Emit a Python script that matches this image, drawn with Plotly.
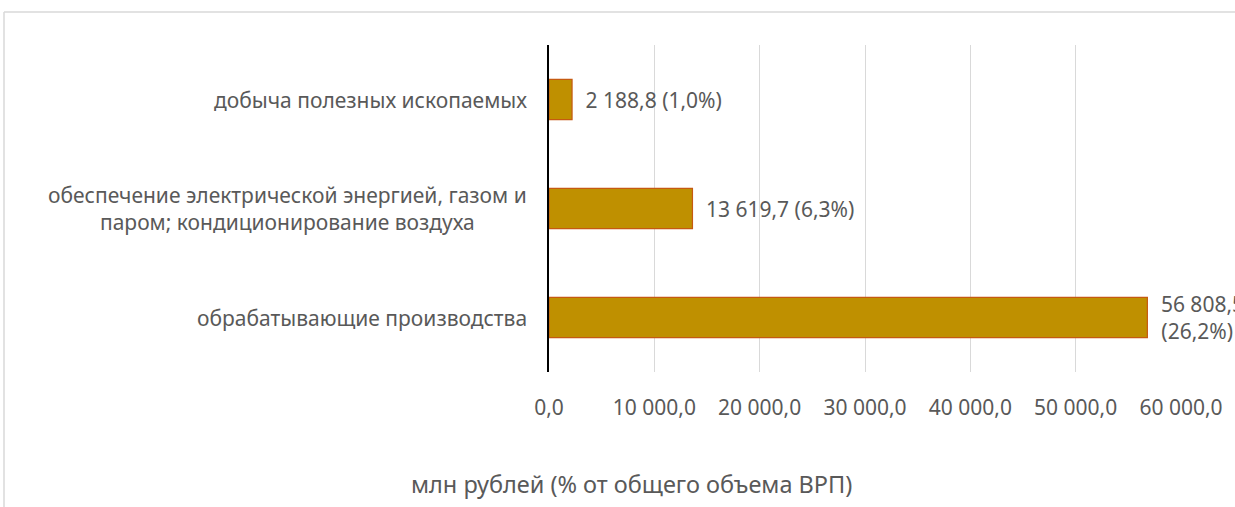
import plotly.graph_objects as go

categories = [
    "обрабатывающие производства",
    "обеспечение электрической энергией, газом и<br>паром; кондиционирование воздуха",
    "добыча полезных ископаемых",
]
values = [56808.5, 13619.7, 2188.8]
shares = ["26,2%", "6,3%", "1,0%"]
bar_labels = ["56 808,5<br>(26,2%)", "13 619,7 (6,3%)", "2 188,8 (1,0%)"]
tick_vals = [0, 10000, 20000, 30000, 40000, 50000, 60000]
tick_text = ["0,0", "10 000,0", "20 000,0", "30 000,0", "40 000,0", "50 000,0", "60 000,0"]
axis_title = "млн рублей (% от общего объема ВРП)"

FONT = "Noto Sans"
GREY = "#595959"
FS = 21
W, H = 1235, 507
L, R, T, B = 549, 54, 45, 135
pw, ph = W - L - R, H - T - B

fig = go.Figure(go.Bar(
    y=list(range(len(categories))), x=values, orientation="h",
    marker=dict(color="#BF9000", line=dict(color="#C55A11", width=1.2)),
    text=bar_labels, texttemplate="\u2002%{text}", textposition="outside",
    cliponaxis=False, constraintext="none",
    textfont=dict(family=FONT, size=FS, color=GREY),
    width=0.37,
))

def px_x(p):
    return (p - L) / pw

def px_y(p):
    return (H - B - p) / ph

annotations = []
for i, c in enumerate(categories):
    annotations.append(dict(
        x=px_x(529), y=i, xref="paper", yref="y", text=c, showarrow=False,
        xanchor="right", yanchor="middle", align="center",
        font=dict(family=FONT, size=FS, color=GREY),
    ))
annotations.append(dict(
    x=px_x(631), y=px_y(484), xref="paper", yref="paper", text=axis_title,
    showarrow=False, xanchor="center", yanchor="middle",
    font=dict(family=FONT, size=23.5, color=GREY),
))

shapes = [
    dict(type="line", xref="paper", yref="paper", x0=px_x(4), x1=px_x(1300),
         y0=px_y(12), y1=px_y(12), line=dict(color="#D9D9D9", width=1.5)),
    dict(type="line", xref="paper", yref="paper", x0=px_x(4), x1=px_x(4),
         y0=px_y(12), y1=px_y(560), line=dict(color="#D9D9D9", width=1.5)),
]

fig.update_layout(
    width=W, height=H, margin=dict(l=L, r=R, t=T, b=B, pad=0),
    paper_bgcolor="white", plot_bgcolor="white", showlegend=False,
    font=dict(family=FONT, size=FS, color=GREY),
    xaxis=dict(range=[0, 60000], tickvals=tick_vals, ticktext=tick_text,
               showgrid=True, gridcolor="#D9D9D9", gridwidth=1, zeroline=False,
               ticks="outside", ticklen=17, tickcolor="rgba(0,0,0,0)",
               tickfont=dict(family=FONT, size=FS, color=GREY), showline=False),
    yaxis=dict(range=[-0.5, 2.5], showticklabels=False, showgrid=False,
               zeroline=False, showline=True, linecolor="black", linewidth=1.5),
    annotations=annotations, shapes=shapes,
)
fig.write_html(
    "out.html",
    config={"displayModeBar": False},
    post_script="document.body.style.margin='0';document.body.style.overflow='hidden';",
)
